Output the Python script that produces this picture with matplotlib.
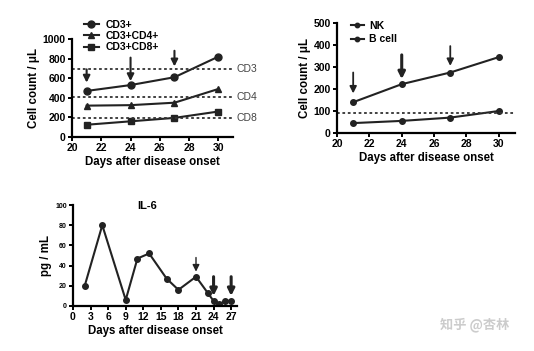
import matplotlib.pyplot as plt

plt.rcParams['font.family'] = ['Liberation Sans', 'DejaVu Sans']
plt.rcParams['font.weight'] = 'bold'
plt.rcParams['axes.labelweight'] = 'bold'

# panel 1: T cells
days_t = [21, 24, 27, 30]
cd3 = [470, 530, 610, 820]
cd4 = [320, 325, 350, 490]
cd8 = [125, 160, 195, 260]
ref_t = [690, 410, 190]
ref_t_labels = ['CD3', 'CD4', 'CD8']
arrows_t = [(21, 690, 555), (24, 810, 570), (27, 880, 720)]

# panel 2: NK / B cells
nk = [140, 222, 275, 345]
bcell = [45, 55, 70, 100]
ref_nb = 90
arrows_nb = [(21, 275, 180), (24, 355, 245), (27, 395, 305)]

# panel 3: IL-6
days_il6 = [2, 5, 9, 11, 13, 16, 18, 21, 23, 24, 25, 26, 27]
il6 = [20, 80, 6, 47, 52, 27, 16, 29, 13, 5, 2, 5, 5]
arrows_il6 = [(21, 48, 34, 1.0), (24, 29, 10, 2.2), (27, 29, 10, 2.2)]

W, H = 534, 351
fig = plt.figure(figsize=(W / 100, H / 100), dpi=100)


def px_axes(l, r, b, t):
    return fig.add_axes([l / W, 1 - b / H, (r - l) / W, (b - t) / H])


def style(ax):
    for s in ['top', 'right']:
        ax.spines[s].set_visible(False)
    for s in ['left', 'bottom']:
        ax.spines[s].set_linewidth(1.6)
    ax.tick_params(width=1.4, length=3, labelsize=7.5, pad=1.5)
    for lab in ax.get_xticklabels() + ax.get_yticklabels():
        lab.set_fontweight('bold')
    ax.set_xlabel('Days after disease onset', fontsize=8.3, labelpad=2)


def arrow(ax, x, y0, y1, lw=1.2):
    ax.annotate('', xy=(x, y1), xytext=(x, y0),
                arrowprops=dict(arrowstyle='-|>,head_length=0.5,head_width=0.25',
                                color='#222222', lw=lw, mutation_scale=8,
                                shrinkA=0, shrinkB=0))


# panel 1
ax1 = px_axes(72, 233, 137, 39)
l1, = ax1.plot(days_t, cd3, '-o', color='#222222', lw=1.5, ms=5, label='CD3+')
l2, = ax1.plot(days_t, cd4, '-^', color='#222222', lw=1.5, ms=5, label='CD3+CD4+')
l3, = ax1.plot(days_t, cd8, '-s', color='#222222', lw=1.5, ms=5, label='CD3+CD8+')
for v, t in zip(ref_t, ref_t_labels):
    ax1.axhline(v, color='#333333', ls=(0, (1.5, 1.5)), lw=1.3)
    ax1.text(1.02, v, t, transform=ax1.get_yaxis_transform(), va='center',
             fontsize=7.5, color='#444444', fontweight='normal')
for x, a, b in arrows_t:
    arrow(ax1, x, a, b, lw=1.5)
ax1.set_xlim(20, 31)
ax1.set_ylim(0, 1000)
ax1.set_xticks(range(20, 31, 2))
ax1.set_yticks(range(0, 1001, 200))
ax1.set_ylabel('Cell count / μL', fontsize=8.3, labelpad=2)
style(ax1)
ax1.legend(handles=[l1, l2, l3], loc='upper left', bbox_to_anchor=(0.04, 1.25),
           frameon=False, fontsize=7.5, handlelength=1.5, labelspacing=0.12,
           borderpad=0, handletextpad=0.6)

# panel 2
ax2 = px_axes(337, 515, 133, 23)
n1, = ax2.plot(days_t, nk, '-o', color='#222222', lw=1.5, ms=4, label='NK')
n2, = ax2.plot(days_t, bcell, '-o', color='#222222', lw=1.5, ms=4, label='B cell')
ax2.axhline(ref_nb, color='#333333', ls=(0, (1.5, 1.5)), lw=1.3)
for x, a, b in arrows_nb:
    arrow(ax2, x, a, b, lw=2.2 if x == 24 else 1.3)
ax2.set_xlim(20, 31)
ax2.set_ylim(0, 500)
ax2.set_xticks(range(20, 31, 2))
ax2.set_yticks(range(0, 501, 100))
ax2.set_ylabel('Cell count / μL', fontsize=8.3, labelpad=2)
style(ax2)
ax2.legend(handles=[n1, n2], loc='upper left', bbox_to_anchor=(0.05, 1.07),
           frameon=False, fontsize=7.5, handlelength=1.2, labelspacing=0.35,
           borderpad=0, handletextpad=0.5, markerscale=0.8)

# panel 3
ax3 = px_axes(73, 237, 306, 205)
ax3.plot(days_il6, il6, '-o', color='#222222', lw=1.5, ms=4)
for x, a, b, lw in arrows_il6:
    arrow(ax3, x, a, b, lw=lw)
ax3.set_xlim(0, 28)
ax3.set_ylim(0, 100)
ax3.set_xticks(range(0, 28, 3))
ax3.set_yticks(range(0, 101, 20))
ax3.set_ylabel('pg / mL', fontsize=8.3, labelpad=2)
ax3.text(0.45, 0.99, 'IL-6', transform=ax3.transAxes, ha='center', va='center',
         fontsize=8, fontweight='bold')
style(ax3)
ax3.tick_params(axis='y', labelsize=5)

fig.text(440 / W, 1 - 325 / H, '知乎 @杏林', fontsize=9.5, color='#cccccc',
         family=['Noto Sans CJK SC', 'DejaVu Sans'], va='center')

fig.savefig('out.png', dpi=100)
